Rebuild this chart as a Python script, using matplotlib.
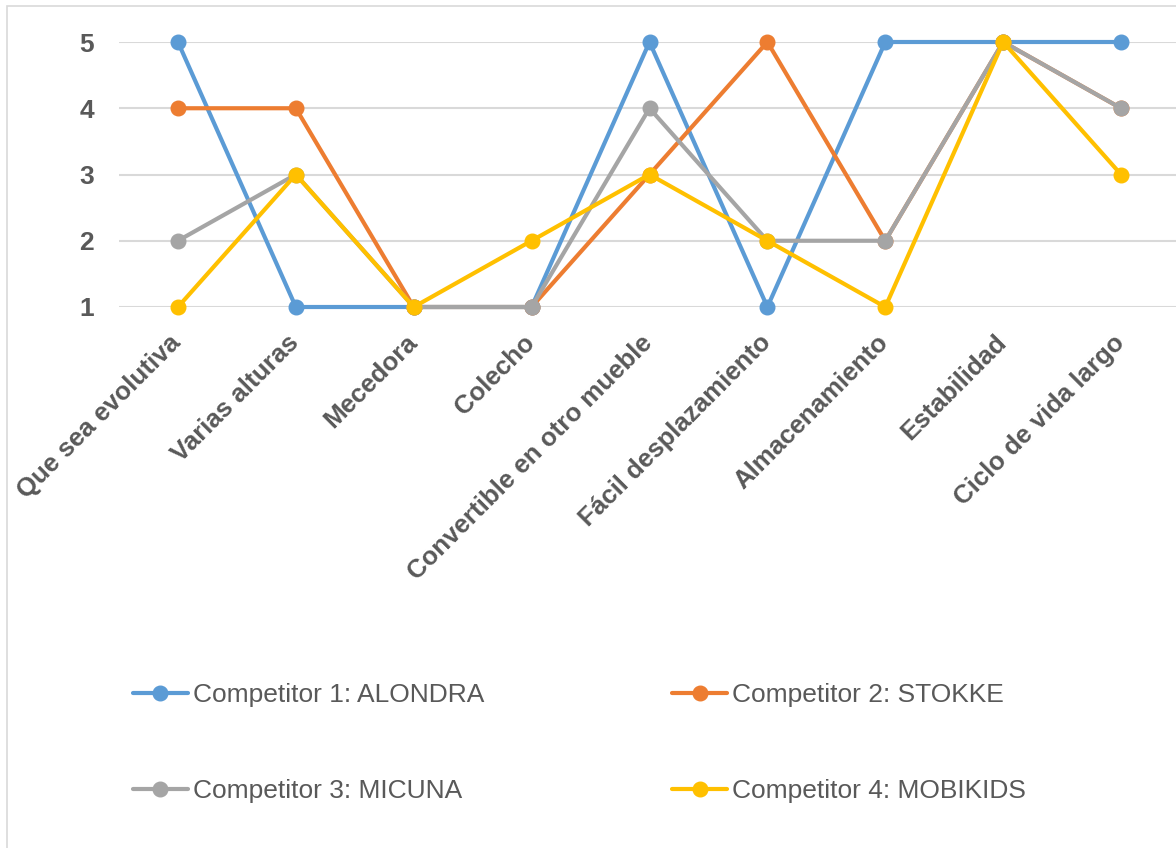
import matplotlib
matplotlib.use("Agg")
import matplotlib.pyplot as plt
from matplotlib.patches import Rectangle
from matplotlib.transforms import ScaledTranslation

plt.rcParams['font.family'] = ['Liberation Sans', 'DejaVu Sans']

categorias = ["Que sea evolutiva", "Varias alturas", "Mecedora", "Colecho",
              "Convertible en otro mueble", "Fácil desplazamiento",
              "Almacenamiento", "Estabilidad", "Ciclo de vida largo"]

alondra = [5, 1, 1, 1, 5, 1, 5, 5, 5]
stokke = [4, 4, 1, 1, 3, 5, 2, 5, 4]
micuna = [2, 3, 1, 1, 4, 2, 2, 5, 4]
mobikids = [1, 3, 1, 2, 3, 2, 1, 5, 3]

nombres = ["Competitor 1: ALONDRA", "Competitor 2: STOKKE",
           "Competitor 3: MICUNA", "Competitor 4: MOBIKIDS"]
colores = ["#5B9BD5", "#ED7D31", "#A5A5A5", "#FFC000"]

W, H = 1176, 848
fig = plt.figure(figsize=(W / 100, H / 100), dpi=100)

# marco del grafico
fig.patches.append(Rectangle((7 / W, -0.1), 1.2, 1 - 6 / H + 0.1,
                             transform=fig.transFigure, fill=False,
                             edgecolor="#D9D9D9", linewidth=1.2))

ax = fig.add_axes([119 / W, 1 - 307 / H, 1061 / W, 265 / H])
x = list(range(len(categorias)))

lineas = []
for serie, nombre, color in zip([alondra, stokke, micuna, mobikids], nombres, colores):
    l, = ax.plot(x, serie, color=color, lw=3, marker="o", markersize=10.5,
                 label=nombre, clip_on=False, solid_capstyle="round")
    lineas.append(l)

ax.set_xlim(-0.5, len(categorias) - 0.5)
ax.set_ylim(1, 5)
ax.set_yticks([1, 2, 3, 4, 5])
ax.yaxis.grid(True, color="#D9D9D9", lw=1.5)
ax.set_axisbelow(True)
for s in ax.spines.values():
    s.set_visible(False)
ax.tick_params(length=0)
ax.tick_params(axis="y", pad=18)
ax.set_yticklabels([1, 2, 3, 4, 5], fontsize=19, fontweight="bold", color="#595959")
ax.set_xticks(x)
ax.set_xticklabels(categorias, rotation=45, ha="right", va="top",
                   rotation_mode="anchor", fontsize=18.6, fontweight="bold",
                   color="#595959")
ax.tick_params(axis="x", pad=17)
# correr las etiquetas un poco a la izquierda
desplaza = ScaledTranslation(-9 / 100, 0, fig.dpi_scale_trans)
for lab in ax.get_xticklabels():
    lab.set_transform(lab.get_transform() + desplaza)

# leyenda en dos columnas, llenada por filas
orden = [lineas[0], lineas[2], lineas[1], lineas[3]]
fig.legend(handles=orden, loc="upper left", bbox_to_anchor=(133 / W, 1 - 683 / H),
           ncol=2, frameon=False, fontsize=19, handlelength=2.08,
           handletextpad=0.19, columnspacing=7.13, labelspacing=2.72,
           labelcolor="#595959", borderaxespad=0, borderpad=0)

fig.savefig("out.png", dpi=100)
